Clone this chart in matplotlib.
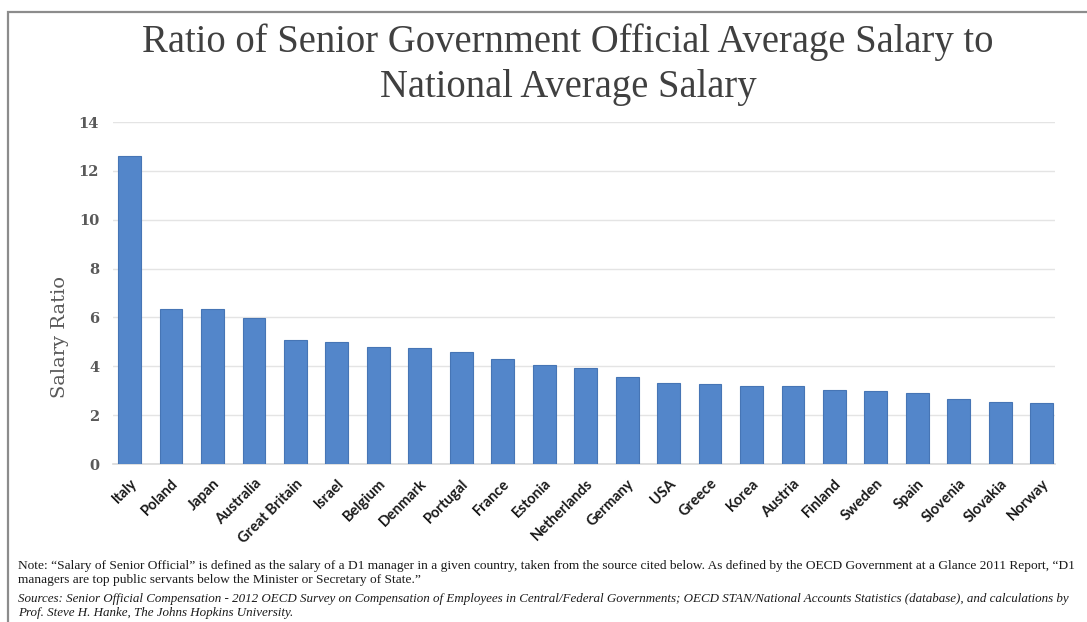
import matplotlib
matplotlib.use("Agg")
import matplotlib.pyplot as plt
from matplotlib.patches import Rectangle

countries = ["Italy", "Poland", "Japan", "Australia", "Great Britain", "Israel",
             "Belgium", "Denmark", "Portugal", "France", "Estonia", "Netherlands",
             "Germany", "USA", "Greece", "Korea", "Austria", "Finland", "Sweden",
             "Spain", "Slovenia", "Slovakia", "Norway"]
ratios = [12.6, 6.36, 6.33, 5.98, 5.08, 5.0, 4.78, 4.74, 4.58, 4.3, 4.07, 3.91,
          3.57, 3.3, 3.26, 3.19, 3.19, 3.03, 2.99, 2.92, 2.66, 2.55, 2.5]
yticks = [0, 2, 4, 6, 8, 10, 12, 14]

title = "Ratio of Senior Government Official Average Salary to\nNational Average Salary"
ylabel = "Salary Ratio"
note = ("Note: \u201cSalary of Senior Official\u201d is defined as the salary of a D1 manager in a given country, "
        "taken from the source cited below. As defined by the OECD Government at a Glance 2011 Report, \u201cD1\n"
        "managers are top public servants below the Minister or Secretary of State.\u201d")
sources = ("Sources: Senior Official Compensation - 2012 OECD Survey on Compensation of Employees in "
           "Central/Federal Governments; OECD STAN/National Accounts Statistics (database), and calculations by\n"
           "Prof. Steve H. Hanke, The Johns Hopkins University.")

W, H = 1087, 622
fig = plt.figure(figsize=(W / 100, H / 100), dpi=100)
fig.patch.set_facecolor("white")

# frame
fig.add_artist(Rectangle((8 / W, -0.1), 1.2, 1 - 12 / H + 0.1, transform=fig.transFigure,
                         fill=False, edgecolor="#8c8c8c", linewidth=1.6))

ax = fig.add_axes([113 / W, 1 - 464 / H, (1055 - 113) / W, (464 - 122) / H])
x = range(len(countries))
ax.bar(x, ratios, width=0.55, color="#5386CA", edgecolor="#4675B5", linewidth=0.8, zorder=3)
ax.set_xlim(-0.4, len(countries) - 1 + 0.32)
ax.set_ylim(0, 14)
ax.set_yticks(yticks)
ax.set_yticklabels([str(t) for t in yticks], fontfamily="DejaVu Serif", fontweight="bold",
                   fontsize=10.5, color="#595959")
ax.grid(axis="y", color="#e4e4e4", linewidth=1.0, zorder=0)
for s in ["top", "right", "left"]:
    ax.spines[s].set_visible(False)
ax.spines["bottom"].set_color("#d9d9d9")
ax.spines["bottom"].set_linewidth(1.2)
ax.tick_params(axis="both", length=0)
ax.tick_params(axis="y", pad=10)
ax.set_xticks(list(x))
ax.set_xticklabels(countries, rotation=45, ha="right", rotation_mode="anchor",
                   fontfamily="Lato", fontweight="bold", fontsize=10.5, color="#1a1a1a")
ax.tick_params(axis="x", pad=9)

fig.text(60 / W, 1 - 337 / H, ylabel, rotation=90, ha="center", va="center",
         fontfamily="DejaVu Serif", fontsize=14, color="#595959")

fig.text(568 / W, 1 - 65 / H, title, ha="center", va="center", fontfamily="Liberation Serif",
         fontsize=27.8, color="#404040", linespacing=1.28)

fig.text(18 / W, 1 - 573 / H, note, ha="left", va="center", fontfamily="Liberation Serif",
         fontsize=9.6, color="#1a1a1a", linespacing=1.3)
fig.text(18 / W, 1 - 606 / H, sources, ha="left", va="center", fontfamily="Liberation Serif",
         fontsize=9.35, style="italic", color="#1a1a1a", linespacing=1.22)

fig.savefig("out.png", dpi=100, facecolor="white")
